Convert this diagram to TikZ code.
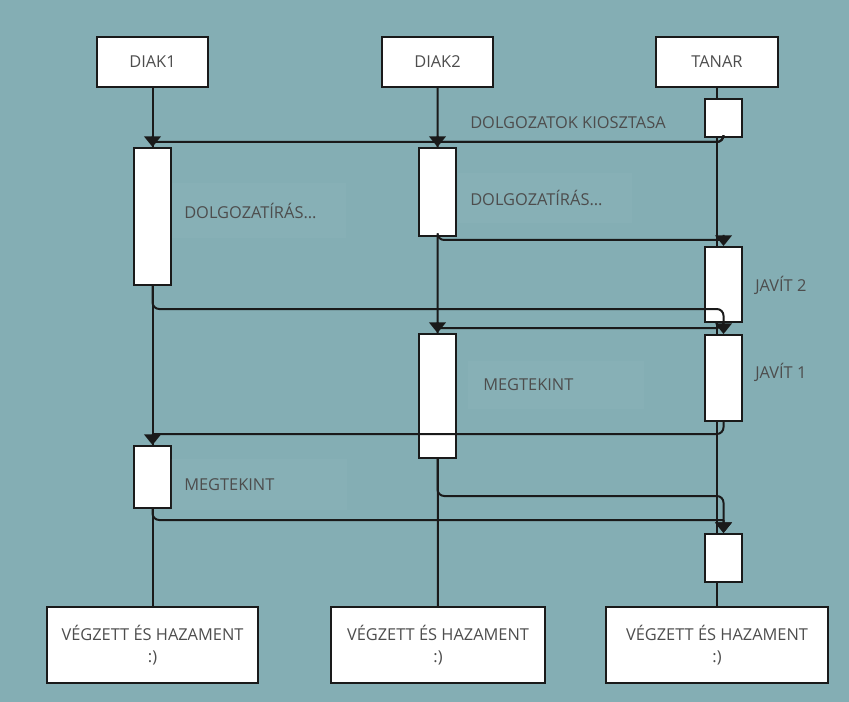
\documentclass[tikz,border=0pt]{standalone}
\usepackage{fontspec}
\setmainfont{Open Sans}
\usepackage{xcolor}
\usepackage{tikz}
\usetikzlibrary{arrows.meta,positioning,calc}
\definecolor{sea}  {HTML}{84AEB4}
\definecolor{ink}  {HTML}{1A1A1A}
\definecolor{words}{HTML}{4D4D4D}
\pgfdeclarelayer{paper}
\pgfdeclarelayer{life}
\pgfsetlayers{paper,life,main}

\begin{document}
\begin{tikzpicture}[x=0.75pt,y=-0.75pt,
    font=\fontsize{12.3}{16.5}\selectfont, text=words,
    head/.style={draw=ink, fill=white, line width=1.5pt, minimum width=83pt, minimum height=37.5pt},
    act/.style={draw=ink, fill=white, line width=1.5pt, minimum width=27.75pt, inner sep=0pt},
    done/.style={draw=ink, fill=white, line width=1.5pt, minimum height=57pt, align=center},
    lifeline/.style={draw=ink, line width=1.5pt},
    msg/.style={draw=ink, line width=1.5pt, rounded corners=5pt,
                -{Triangle[width=12.5pt,length=8pt]}},
    note/.style={anchor=west, fill=white, fill opacity=0.03, text opacity=1,
                 text width=112pt, minimum height=38pt, inner xsep=9pt, align=left},
    tag/.style={anchor=west, inner sep=0pt}]
  \useasboundingbox (0,0) rectangle (849,702);
  \begin{pgfonlayer}{paper}
    \fill[sea] (0,0) rectangle (849,702);
  \end{pgfonlayer}

  % participants
  \node[head] (diak1) at (152.5,62) {DIAK1};
  \node[head] (diak2) at (437.5,62) {DIAK2};
  \node[head, minimum width=91.5pt] (tanar) at (717,62) {TANAR};

  \node[done, minimum width=158.25pt] (end1) at (152.5,645) {VÉGZETT ÉS HAZAMENT\\:)};
  \node[done, minimum width=160.5pt] (end2) at (438,645) {VÉGZETT ÉS HAZAMENT\\:)};
  \node[done, minimum width=166.5pt] (end3) at (717,645) {VÉGZETT ÉS HAZAMENT\\:)};

  \begin{pgfonlayer}{life}
    \draw[lifeline] (diak1) -- (end1);
    \draw[lifeline] (diak2) -- (end2);
    \draw[lifeline] (tanar) -- (end3);
  \end{pgfonlayer}

  % activations
  \node[act, minimum height=28.5pt]  (t0) at (723.5,118) {};
  \node[act, minimum height=102.75pt](a1) at (152.5,216.5) {};
  \node[act, minimum height=66pt]    (b1) at (437.5,192) {};
  \node[act, minimum height=56.25pt] (t1) at (723.5,284.5) {};
  \node[act, minimum height=93pt]    (b2) at (437.5,396) {};
  \node[act, minimum height=64.5pt]  (t2) at (723.5,378) {};
  \node[act, minimum height=46.5pt]  (a2) at (152.5,477) {};
  \node[act, minimum height=36pt]    (t3) at (723.5,558) {};

  % labels
  \node[tag] (kiosz) at (470,123) {DOLGOZATOK KIOSZTASA};
  \node[note, minimum height=41pt] (irasA) at (172,210.5) {DOLGOZATÍRÁS...};
  \node[note] (irasB) at (458,198) {DOLGOZATÍRÁS...};
  \node[tag] (jav2) at (755,285) {JAVÍT 2};
  \node[tag] (jav1) at (755,372) {JAVÍT 1};
  \node[note, inner xsep=11.25pt, text width=109pt, minimum height=36pt] (megB) at (468,385) {MEGTEKINT};
  \node[note, inner xsep=9.75pt] (megA) at (171,484.5) {MEGTEKINT};

  % messages (short drops get their tip as a separate piece)
  \draw[msg] (t0.south) |- ($(a1.north)+(0,-5)$) ($(a1.north)+(0,-11)$) -- (a1.north);
  \draw[msg] (t0.south) |- ($(b1.north)+(0,-5)$) ($(b1.north)+(0,-11)$) -- (b1.north);
  \draw[msg] (b1.south) |- ($(t1.north)+(0,-6)$) ($(t1.north)+(0,-11)$) -- (t1.north);
  \draw[msg] (a1.south) |- ($(t2.north)+(0,-25)$) -- (t2.north);
  \draw[msg] (t1.south) |- ($(b2.north)+(0,-5)$) ($(b2.north)+(0,-11)$) -- (b2.north);
  \draw[msg] (t2.south) |- ($(a2.north)+(0,-11)$) ($(a2.north)+(0,-11)$) -- (a2.north);
  \draw[msg] (b2.south) |- ($(t3.north)+(0,-37)$) -- (t3.north);
  \draw[msg] (a2.south) |- ($(t3.north)+(0,-13)$) ($(t3.north)+(0,-13)$) -- (t3.north);
\end{tikzpicture}
\end{document}
